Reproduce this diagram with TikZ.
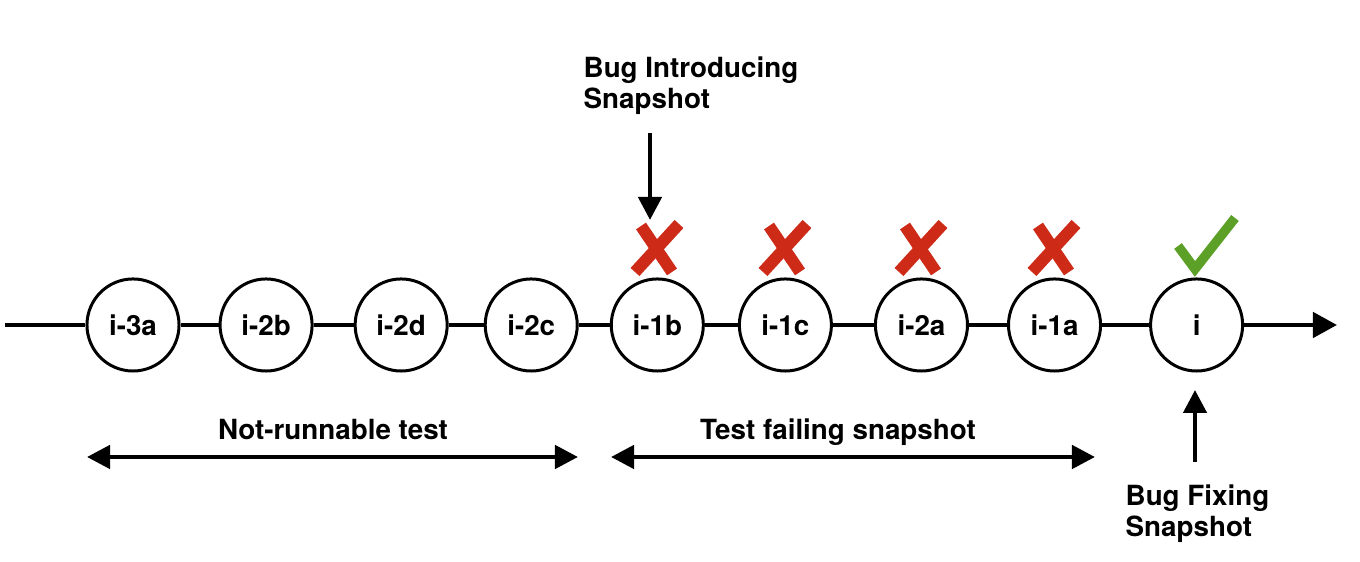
\documentclass[tikz,border=0pt]{standalone}
\usepackage{fontspec}
\setmainfont{TeX Gyre Heros}
\usepackage{tikz}
\usetikzlibrary{positioning}
\usetikzlibrary{arrows.meta}

\definecolor{failred}{RGB}{205,42,24}
\definecolor{passgreen}{RGB}{92,160,40}

\begin{document}
\begin{tikzpicture}[x=0.01cm, y=-0.01cm,
        snap/.style={circle, draw=black, fill=white, line width=0.85pt, minimum size=0.92cm, inner sep=0pt, font=\bfseries\fontsize{7.9}{8.8}\selectfont},
        note/.style={inner sep=0pt, align=left, font=\bfseries\fontsize{7.9}{8.8}\selectfont},
        timeline/.style={line width=1.3pt},
        pointer/.style={line width=1.3pt, -{Triangle[length=0.23cm, width=0.23cm]}},
        span/.style={line width=1.3pt, {Triangle[length=0.23cm, width=0.23cm]}-{Triangle[length=0.23cm, width=0.23cm]}},
        fail/.style={failred, line width=3.4pt},
        pass/.style={passgreen, line width=2.7pt}
      ]
        \useasboundingbox (0,0) rectangle (1360,562);

        \node[snap]  (i3a)  at (133,325)                               {i-3a};
        \node[snap]  (i2b)  [right of=i3a, node distance=1.33cm]       {i-2b};
        \node[snap]  (i2d)  [right of=i2b, node distance=1.35cm]       {i-2d};
        \node[snap]  (i2c)  [right of=i2d, node distance=1.30cm]       {i-2c};
        \node[snap]  (i1b)  [right of=i2c, node distance=1.26cm]       {i-1b};
        \node[snap]  (i1c)  [right of=i1b, node distance=1.28cm]       {i-1c};
        \node[snap]  (i2a)  [right of=i1c, node distance=1.36cm]       {i-2a};
        \node[snap]  (i1a)  [right of=i2a, node distance=1.33cm]       {i-1a};
        \node[snap]  (i)    [right of=i1a, node distance=1.42cm]       {i};

        \coordinate (start) at (5,325);
        \coordinate (end)   at (1337,325);
        \draw[timeline] (start) -- (i3a) -- (i2b) -- (i2d) -- (i2c) -- (i1b) -- (i1c) -- (i2a) -- (i1a) -- (i);
        \draw[timeline, -{Triangle[length=0.24cm, width=0.25cm]}] (i) -- (end);

        % failing snapshots
        \foreach \x in {657,785,921,1054} {
          \draw[fail] (\x-16,226) -- (\x+15,272);
          \draw[fail] (\x+22,224) -- (\x-22,272);
        }
        \draw[pass] (1178,246) -- (1195,269) -- (1235,218);

        \node[note, anchor=north west]  (bugin)   at (583,56)   {Bug Introducing\\Snapshot};
        \coordinate (intop) at (650,133);
        \coordinate (intip) at (650,220);
        \draw[pointer] (intop) -- (intip);

        \node[note, anchor=north west]  (bugfix)  at (1125,484) {Bug Fixing\\Snapshot};
        \coordinate (fixbot) at (1195,462);
        \coordinate (fixtip) at (1195,390);
        \draw[pointer] (fixbot) -- (fixtip);

        \coordinate (nrl) at (87,457);
        \coordinate (nrr) at (578,457);
        \draw[span] (nrl) -- (nrr);
        \node[note, anchor=base]  (nrtext)  at (333,440)  {Not-runnable test};

        \coordinate (tfl) at (611,457);
        \coordinate (tfr) at (1095,457);
        \draw[span] (tfl) -- (tfr);
        \node[note, anchor=base]  (tftext)  at (838,440)  {Test failing snapshot};
      \end{tikzpicture}
\end{document}
